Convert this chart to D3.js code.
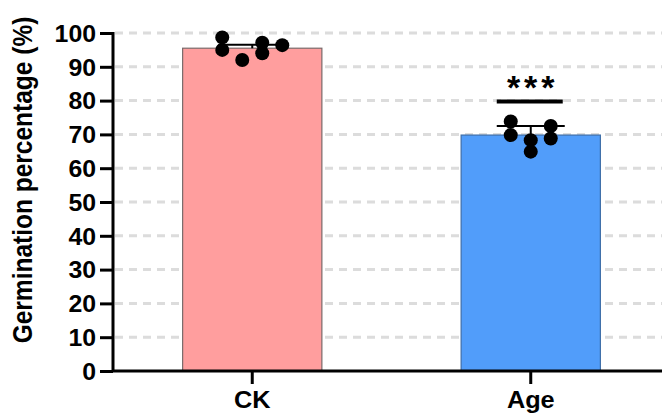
<!DOCTYPE html>
<html>
<head>
<meta charset="utf-8">
<script src="https://cdn.jsdelivr.net/npm/d3@7"></script>
<style>
  html, body { margin: 0; padding: 0; background: #fff; }
  svg { display: block; }
  text { font-family: "Liberation Sans", Arial, Helvetica, sans-serif; font-weight: bold; fill: #000; }
</style>
</head>
<body>
<svg id="chart" width="662" height="417"></svg>
<script>
// Groups and their bar heights (mean germination, %)
const groups = ["CK", "Age"];
const means = [95.5, 69.8];
// Upper error whisker length for each group (%)
const errors = [1.0, 2.7];
// Individual replicate values per group
const ckPoints = [98.7, 95.0, 92.0, 97.1, 94.0, 96.4];
const agePoints = [73.8, 69.8, 68.3, 64.9, 72.5, 68.8];
// Horizontal scatter column of each replicate (in units of the point spacing)
const ckCols = [-1.5, -1.5, -0.5, 0.5, 0.5, 1.5];
const ageCols = [-1, -1, 0, 0, 1, 1];
const yTicks = [0, 10, 20, 30, 40, 50, 60, 70, 80, 90, 100];
const barColors = ["#ff9e9e", "#519dfa"];
const barStrokes = ["#7a6a6a", "#3d6ea8"];
const significance = "***";

const svg = d3.select("#chart");
const W = 662;

const y = d3.scaleLinear().domain([0, 100]).range([371, 33]);
const x = d3.scaleBand().domain(groups).range([113, 670]).paddingInner(0.5).paddingOuter(0.25);
const center = g => x(g) + x.bandwidth() / 2;

// dashed horizontal grid
svg.append("g")
  .selectAll("line")
  .data(yTicks.filter(d => d > 0))
  .join("line")
  .attr("x1", 115).attr("x2", W)
  .attr("y1", d => y(d)).attr("y2", d => y(d))
  .attr("stroke", "#dcdcdc")
  .attr("stroke-width", 3)
  .attr("stroke-dasharray", "8,6");

// bars
svg.append("g")
  .selectAll("rect")
  .data(groups)
  .join("rect")
  .attr("x", d => x(d))
  .attr("width", x.bandwidth())
  .attr("y", (d, i) => y(means[i]))
  .attr("height", (d, i) => y(0) - y(means[i]))
  .attr("fill", (d, i) => barColors[i])
  .attr("stroke", (d, i) => barStrokes[i])
  .attr("stroke-width", 1.2);

// error bars (upper whisker with cap)
const capHalf = 34;
const eb = svg.append("g").attr("stroke", "#000").attr("stroke-width", 2);
groups.forEach((g, i) => {
  const cx = center(g);
  eb.append("line")
    .attr("x1", cx).attr("x2", cx)
    .attr("y1", y(means[i])).attr("y2", y(means[i] + errors[i]));
  eb.append("line")
    .attr("x1", cx - capHalf).attr("x2", cx + capHalf)
    .attr("y1", y(means[i] + errors[i])).attr("y2", y(means[i] + errors[i]));
});

// replicate points
const spacing = 20;
const pts = [];
ckPoints.forEach((v, k) => pts.push({ g: "CK", v, c: ckCols[k] }));
agePoints.forEach((v, k) => pts.push({ g: "Age", v, c: ageCols[k] }));
svg.append("g")
  .selectAll("circle")
  .data(pts)
  .join("circle")
  .attr("cx", d => center(d.g) + d.c * spacing)
  .attr("cy", d => y(d.v))
  .attr("r", 7)
  .attr("fill", "#000");

// y axis
const yAxis = svg.append("g")
  .attr("transform", "translate(113,0)")
  .call(d3.axisLeft(y).tickValues(yTicks).tickSize(13).tickPadding(4));
yAxis.select(".domain").attr("stroke", "#000").attr("stroke-width", 3).attr("d", `M0,${y(100) - 1}V${y(0)}`);
yAxis.selectAll(".tick line").attr("stroke", "#000").attr("stroke-width", 3);
yAxis.selectAll(".tick text")
  .attr("font-size", 23)
  .attr("font-family", "Liberation Sans, Arial, sans-serif")
  .attr("font-weight", "bold")
  .attr("fill", "#000")
  .attr("dy", "0.36em")
  .attr("transform", function () {
    const tx = +d3.select(this).attr("x");
    return `translate(${tx},0) scale(1.08,1) translate(${-tx},0)`;
  });

// x axis
const xAxis = svg.append("g")
  .attr("transform", `translate(0,${y(0)})`)
  .call(d3.axisBottom(x).tickSize(13).tickPadding(8));
xAxis.select(".domain").attr("stroke", "#000").attr("stroke-width", 3).attr("d", `M112,0H${W}`);
xAxis.selectAll(".tick line").attr("stroke", "#000").attr("stroke-width", 3);
xAxis.selectAll(".tick text")
  .attr("font-size", 23)
  .attr("font-family", "Liberation Sans, Arial, sans-serif")
  .attr("font-weight", "bold")
  .attr("fill", "#000")
  .attr("transform", "scale(1.1,1)");

// y axis title
svg.append("text")
  .attr("transform", "translate(32,180) rotate(-90) scale(1,1.1)")
  .attr("text-anchor", "middle")
  .attr("font-size", 24.5)
  .text("Germination percentage (%)");

// significance marker over the Age bar
const ax = center("Age");
svg.append("line")
  .attr("x1", ax - 34).attr("x2", ax + 32)
  .attr("y1", 101.5).attr("y2", 101.5)
  .attr("stroke", "#000").attr("stroke-width", 4);
svg.append("text")
  .attr("x", ax + 2).attr("y", 99)
  .attr("text-anchor", "middle")
  .attr("font-size", 34)
  .attr("letter-spacing", 4)
  .text(significance);
</script>
</body>
</html>
